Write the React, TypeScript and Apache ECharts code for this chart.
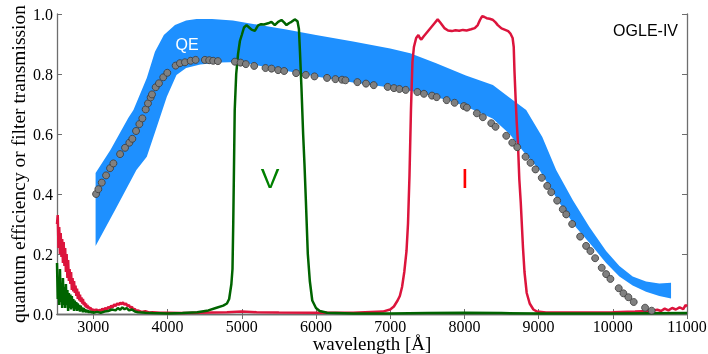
import React, { useEffect, useRef } from "react";
import * as echarts from "echarts";

// ---------- data ----------
const xTicks = [3000, 4000, 5000, 6000, 7000, 8000, 9000, 10000, 11000];

// QE band edges (wavelength Å, efficiency)
const qeUpper: [number, number][] = [
  [3030, 0.47], [3230, 0.547], [3470, 0.653], [3540, 0.68], [3720, 0.787], [3830, 0.874],
  [3950, 0.93], [4100, 0.963], [4250, 0.978], [4390, 0.983], [4600, 0.983], [4880, 0.978],
  [5200, 0.965], [5600, 0.948], [6000, 0.93], [6500, 0.908], [7000, 0.885], [7270, 0.869],
  [7620, 0.836], [8020, 0.795], [8384, 0.763], [8833, 0.68], [9050, 0.59], [9237, 0.48],
  [9460, 0.38], [9685, 0.29], [9910, 0.21], [10089, 0.16], [10268, 0.125], [10448, 0.108],
  [10627, 0.102], [10785, 0.104],
];
const qeLower: [number, number][] = [
  [3030, 0.227], [3300, 0.35], [3580, 0.48], [3720, 0.524], [3850, 0.62], [3990, 0.724],
  [4120, 0.797], [4250, 0.82], [4440, 0.832], [4700, 0.838], [4975, 0.84], [5500, 0.815],
  [6000, 0.792], [6500, 0.772], [7000, 0.755], [7400, 0.738], [7760, 0.713], [7990, 0.695],
  [8200, 0.672], [8380, 0.652], [8610, 0.6], [8800, 0.54], [9012, 0.48], [9281, 0.37],
  [9500, 0.29], [9730, 0.224], [9910, 0.17], [10089, 0.125], [10268, 0.095], [10448, 0.074],
  [10627, 0.06], [10785, 0.052],
];

// measured QE points
const qeDots: [number, number][] = [
  [3036, 0.4], [3067, 0.416], [3113, 0.438], [3171, 0.462], [3225, 0.486], [3270, 0.502],
  [3360, 0.533], [3427, 0.554], [3485, 0.571], [3525, 0.584], [3575, 0.61], [3620, 0.633],
  [3660, 0.652], [3705, 0.682], [3736, 0.702], [3772, 0.722], [3790, 0.732], [3840, 0.756],
  [3884, 0.769], [3942, 0.789], [3996, 0.804], [4109, 0.828], [4167, 0.836], [4234, 0.839],
  [4311, 0.844], [4378, 0.847], [4503, 0.847], [4561, 0.846], [4615, 0.844], [4678, 0.843],
  [4907, 0.841], [4984, 0.838], [5055, 0.833], [5167, 0.827], [5320, 0.82], [5401, 0.818],
  [5490, 0.813], [5571, 0.81], [5732, 0.803], [5863, 0.797], [5980, 0.792], [6149, 0.787],
  [6262, 0.783], [6351, 0.781], [6397, 0.779], [6558, 0.773], [6674, 0.768], [6778, 0.763],
  [6966, 0.757], [7051, 0.753], [7124, 0.75], [7209, 0.747], [7366, 0.74], [7455, 0.734],
  [7563, 0.728], [7626, 0.723], [7761, 0.713], [7868, 0.704], [7993, 0.693], [8034, 0.688],
  [8168, 0.669], [8249, 0.656], [8362, 0.636], [8420, 0.624], [8564, 0.594], [8645, 0.571],
  [8712, 0.556], [8824, 0.524], [8891, 0.504], [8958, 0.482], [9043, 0.454], [9116, 0.427],
  [9170, 0.406], [9250, 0.378], [9326, 0.349], [9372, 0.332], [9452, 0.3], [9560, 0.258],
  [9640, 0.227], [9698, 0.21], [9762, 0.186], [9851, 0.154], [9910, 0.133], [9968, 0.117],
  [10080, 0.086], [10143, 0.069], [10210, 0.056], [10282, 0.04], [10435, 0.021], [10524, 0.011],
];

// I filter transmission
const iFilter: [number, number][] = [
  [2510, 0.3], [2520, 0.33], [2530, 0.22], [2540, 0.29], [2550, 0.2], [2560, 0.27], [2570, 0.19],
  [2580, 0.25], [2590, 0.17], [2600, 0.24], [2610, 0.16], [2620, 0.22], [2630, 0.14], [2640, 0.2],
  [2650, 0.12], [2660, 0.18], [2670, 0.11], [2680, 0.15], [2690, 0.1], [2700, 0.14], [2710, 0.08],
  [2720, 0.12], [2730, 0.075], [2740, 0.11], [2750, 0.07], [2760, 0.095], [2770, 0.06], [2780, 0.085],
  [2790, 0.05], [2800, 0.075], [2810, 0.045], [2820, 0.065], [2830, 0.04], [2840, 0.055], [2850, 0.035],
  [2860, 0.05], [2870, 0.03], [2880, 0.04], [2890, 0.025], [2900, 0.035], [2910, 0.02], [2920, 0.03],
  [2930, 0.018], [2940, 0.025], [2950, 0.015], [2960, 0.022], [2970, 0.012], [2980, 0.018],
  [2990, 0.011], [3000, 0.015], [3020, 0.01], [3040, 0.016], [3060, 0.009], [3080, 0.014],
  [3100, 0.01], [3120, 0.018], [3140, 0.012], [3160, 0.02], [3180, 0.015], [3200, 0.024],
  [3220, 0.018], [3240, 0.028], [3260, 0.022], [3280, 0.032], [3300, 0.026], [3320, 0.036],
  [3340, 0.03], [3360, 0.038], [3380, 0.032], [3400, 0.039], [3420, 0.03], [3440, 0.036],
  [3460, 0.026], [3480, 0.03], [3500, 0.02], [3520, 0.024], [3540, 0.014], [3560, 0.017],
  [3580, 0.009], [3600, 0.012], [3650, 0.007], [3700, 0.009], [3750, 0.005], [3800, 0.006],
  [3900, 0.004], [4000, 0.004], [4200, 0.003], [4400, 0.004], [4600, 0.005], [4800, 0.006],
  [5000, 0.008], [5200, 0.006], [5500, 0.005], [6000, 0.004], [6500, 0.004], [6900, 0.008],
  [7000, 0.015], [7050, 0.025], [7100, 0.045], [7130, 0.06], [7160, 0.09], [7190, 0.14],
  [7220, 0.21], [7240, 0.3], [7260, 0.46], [7280, 0.68], [7300, 0.84], [7320, 0.89], [7350, 0.92],
  [7380, 0.93], [7400, 0.92], [7420, 0.915], [7450, 0.925], [7500, 0.94], [7550, 0.955],
  [7600, 0.97], [7640, 0.982], [7680, 0.97], [7730, 0.953], [7780, 0.945], [7830, 0.943],
  [7880, 0.946], [7930, 0.944], [7980, 0.947], [8030, 0.945], [8090, 0.949], [8140, 0.953],
  [8180, 0.963], [8210, 0.98], [8240, 0.993], [8270, 0.99], [8300, 0.986], [8340, 0.984],
  [8380, 0.981], [8420, 0.972], [8450, 0.963], [8500, 0.952], [8550, 0.947], [8590, 0.943],
  [8620, 0.935], [8650, 0.92], [8665, 0.89], [8675, 0.81], [8690, 0.72], [8705, 0.64],
  [8720, 0.58], [8740, 0.45], [8760, 0.37], [8790, 0.22], [8810, 0.14], [8840, 0.07],
  [8880, 0.035], [8930, 0.015], [8980, 0.008], [9100, 0.005], [9500, 0.005], [10000, 0.006],
  [10300, 0.008], [10500, 0.01], [10600, 0.014], [10650, 0.01], [10700, 0.018], [10750, 0.012],
  [10800, 0.02], [10850, 0.015], [10900, 0.022], [10950, 0.016], [10980, 0.03], [11000, 0.025],
];

// V filter transmission
const vFilter: [number, number][] = [
  [2510, 0.17], [2520, 0.05], [2530, 0.12], [2540, 0.03], [2550, 0.15], [2560, 0.04], [2570, 0.1],
  [2580, 0.02], [2590, 0.12], [2600, 0.03], [2610, 0.09], [2620, 0.02], [2630, 0.1], [2640, 0.03],
  [2650, 0.08], [2660, 0.01], [2670, 0.07], [2680, 0.02], [2690, 0.065], [2700, 0.015], [2710, 0.06],
  [2720, 0.02], [2730, 0.05], [2740, 0.01], [2750, 0.045], [2760, 0.015], [2770, 0.04], [2780, 0.01],
  [2790, 0.035], [2800, 0.012], [2810, 0.03], [2820, 0.008], [2830, 0.028], [2840, 0.01],
  [2850, 0.022], [2860, 0.006], [2870, 0.02], [2880, 0.008], [2890, 0.016], [2900, 0.005],
  [2910, 0.014], [2920, 0.006], [2930, 0.012], [2940, 0.004], [2950, 0.01], [2960, 0.004],
  [2970, 0.009], [2980, 0.003], [2990, 0.008], [3000, 0.004], [3050, 0.007], [3100, 0.004],
  [3150, 0.008], [3200, 0.01], [3250, 0.015], [3300, 0.012], [3330, 0.02], [3360, 0.014],
  [3390, 0.022], [3420, 0.016], [3450, 0.02], [3480, 0.012], [3520, 0.015], [3560, 0.008],
  [3600, 0.006], [3700, 0.004], [3800, 0.003], [4000, 0.002], [4200, 0.003], [4400, 0.006],
  [4550, 0.012], [4650, 0.02], [4750, 0.028], [4800, 0.035], [4830, 0.05], [4860, 0.1],
  [4875, 0.15], [4885, 0.3], [4893, 0.45], [4905, 0.68], [4925, 0.8], [4950, 0.867], [4975, 0.91],
  [5000, 0.93], [5030, 0.955], [5064, 0.963], [5100, 0.955], [5132, 0.948], [5176, 0.944],
  [5220, 0.962], [5260, 0.966], [5300, 0.965], [5355, 0.969], [5400, 0.974], [5445, 0.963],
  [5490, 0.974], [5535, 0.98], [5570, 0.972], [5603, 0.963], [5640, 0.97], [5670, 0.974],
  [5714, 0.982], [5751, 0.976], [5770, 0.95], [5785, 0.87], [5805, 0.75], [5827, 0.6],
  [5845, 0.5], [5865, 0.37], [5890, 0.2], [5917, 0.11], [5950, 0.045], [6000, 0.02],
  [6050, 0.01], [6150, 0.004], [6500, 0.002], [7000, 0.002], [7500, 0.003], [8000, 0.004],
  [8500, 0.003], [9000, 0.002], [10000, 0.002], [11000, 0.003],
];

const SERIF = '"Liberation Serif", "Times New Roman", serif';
const SANS = '"Liberation Sans", Arial, sans-serif';

export default function App() {
  const ref = useRef<HTMLDivElement>(null);
  useEffect(() => {
    if (!ref.current) return;
    const chart = echarts.init(ref.current, undefined, { renderer: "svg" });
    const frame = { show: true, lineStyle: { color: "#6e6e6e", width: 1.3 } };
    const tick = { inside: true, length: 5, lineStyle: { color: "#6e6e6e", width: 1 } };
    chart.setOption({
      animation: false,
      grid: { left: 57, right: 21, top: 14, bottom: 40, containLabel: false, outerBoundsMode: "none" },
      xAxis: [
        {
          type: "value", min: 2510, max: 11000, position: "bottom",
          axisLine: frame,
          axisTick: { ...tick, customValues: xTicks },
          axisLabel: {
            customValues: xTicks, formatter: (v: number) => String(v),
            fontFamily: SERIF, fontSize: 16, lineHeight: 14, color: "#000", margin: 5,
          },
          splitLine: { show: false },
          name: "wavelength [Å]", nameLocation: "middle", nameGap: 20, nameMoveOverlap: false,
          nameTextStyle: { fontFamily: SERIF, fontSize: 19, lineHeight: 19, color: "#000" },
        },
        {
          type: "value", min: 2510, max: 11000, position: "top",
          axisLine: frame,
          axisTick: { ...tick, customValues: xTicks },
          axisLabel: { show: false },
          splitLine: { show: false },
        },
      ],
      yAxis: [
        {
          type: "value", min: 0, max: 1, interval: 0.2, position: "left",
          axisLine: frame, axisTick: tick,
          axisLabel: { formatter: (v: number) => v.toFixed(1), fontFamily: SERIF, fontSize: 16, color: "#000", margin: 4 },
          splitLine: { show: false },
          name: "quantum efficiency or filter transmission", nameLocation: "middle", nameGap: 29, nameMoveOverlap: false,
          nameTextStyle: { fontFamily: SERIF, fontSize: 19.5, color: "#000" },
        },
        {
          type: "value", min: 0, max: 1, interval: 0.2, position: "right",
          axisLine: frame, axisTick: tick, axisLabel: { show: false }, splitLine: { show: false },
        },
      ],
      series: [
        {
          type: "custom",
          z: 1,
          data: [...qeUpper, ...qeLower],
          encode: { x: 0, y: 1 },
          renderItem: (params: any, api: any) => {
            if (params.dataIndex !== 0) return null;
            const pts = qeUpper.map((p) => api.coord(p)).concat(
              qeLower.slice().reverse().map((p) => api.coord(p))
            );
            return { type: "polygon", shape: { points: pts }, style: { fill: "#1e90ff" } };
          },
        },
        {
          type: "line", data: iFilter, showSymbol: false, z: 2,
          lineStyle: { color: "#dc143c", width: 2.5 },
        },
        {
          type: "line", data: vFilter, showSymbol: false, z: 3,
          lineStyle: { color: "#006400", width: 2.5 },
        },
        {
          type: "scatter", data: qeDots, symbolSize: 7, z: 4,
          itemStyle: { color: "#808080", borderColor: "#3a3a3a", borderWidth: 0.8, opacity: 1 },
        },
      ],
      graphic: [
        { type: "text", x: 187, y: 44, z: 10, style: { text: "QE", fill: "#ffffff", font: `16px ${SANS}`, align: "center", verticalAlign: "middle" } },
        { type: "text", x: 270, y: 178, z: 10, style: { text: "V", fill: "#008000", font: `28px ${SANS}`, align: "center", verticalAlign: "middle" } },
        { type: "text", x: 465, y: 178, z: 10, style: { text: "I", fill: "#ff0000", font: `28px ${SANS}`, align: "center", verticalAlign: "middle" } },
        { type: "text", x: 678, y: 30, z: 10, style: { text: "OGLE-IV", fill: "#000000", font: `16px ${SANS}`, align: "right", verticalAlign: "middle" } },
      ],
    });
    return () => chart.dispose();
  }, []);
  return <div ref={ref} style={{ position: "fixed", left: 0, top: 0, width: 708, height: 354 }} />;
}
